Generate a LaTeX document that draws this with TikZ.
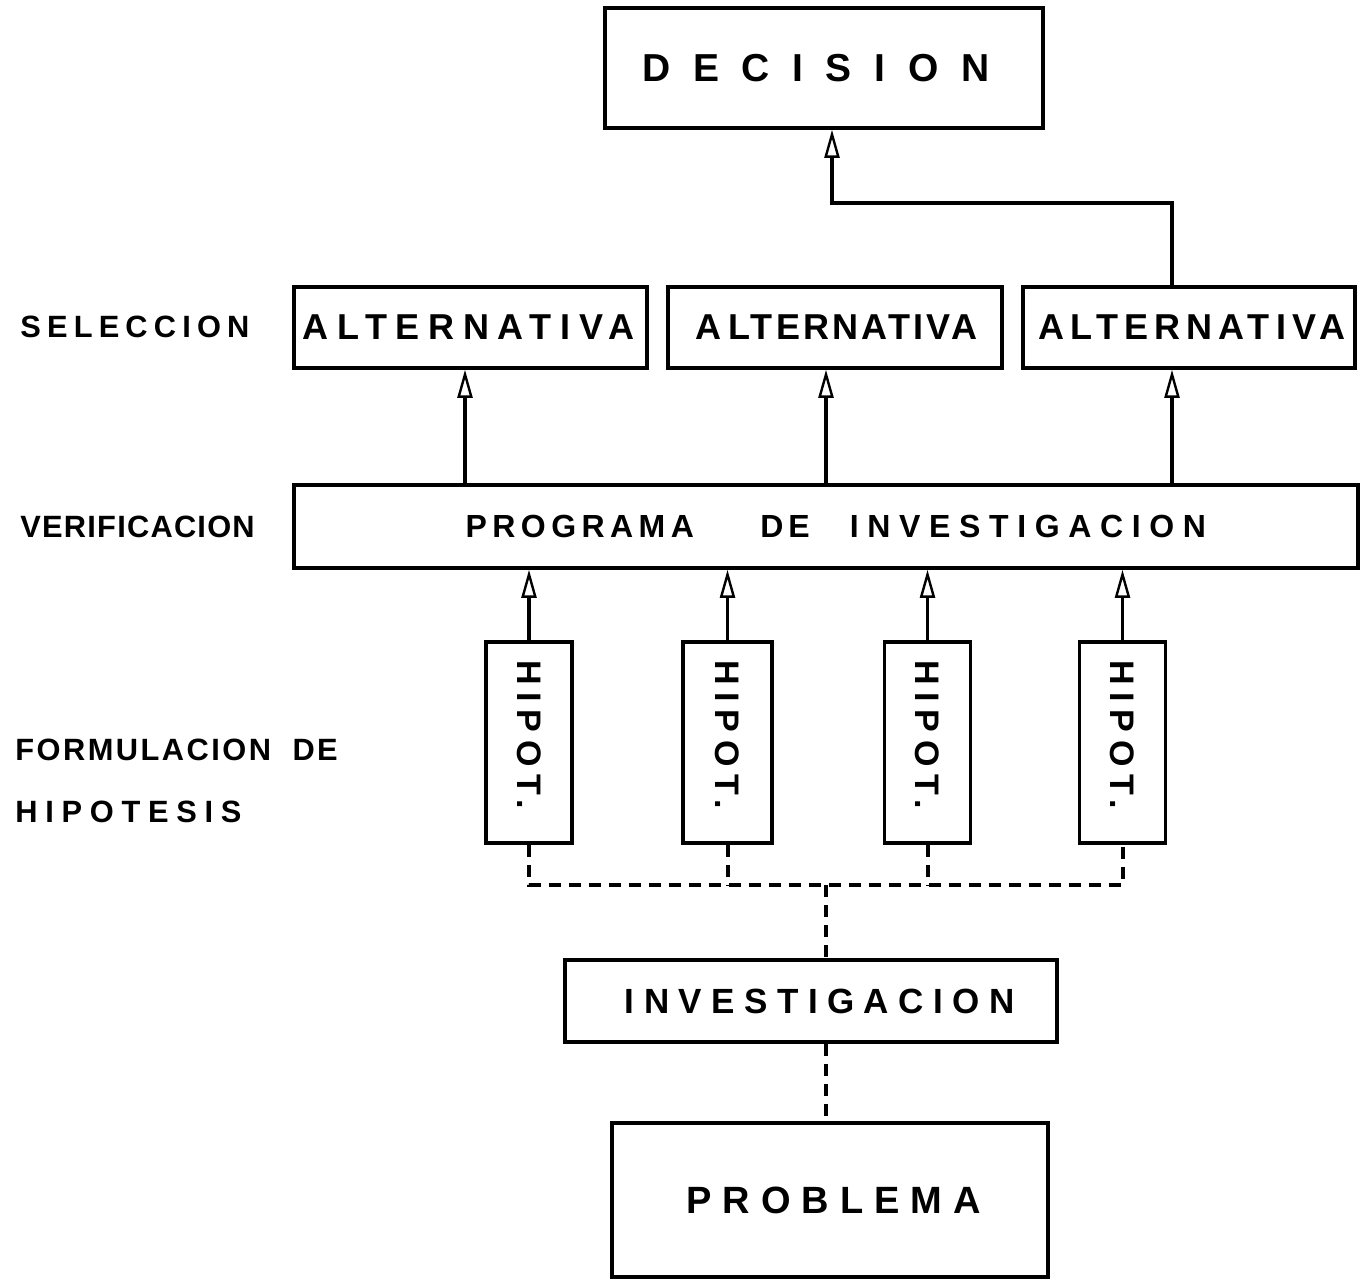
\documentclass[tikz,border=0pt]{standalone}
\usepackage{fontspec}
\usepackage{graphicx}
\setmainfont{Liberation Sans}
\usetikzlibrary{arrows.meta}
\newcommand\lsp[2]{{\addfontfeature{LetterSpace=#1}#2\kern-\dimexpr\fontdimen6\font*#1/100\relax}}
\tikzset{
  box/.style={draw, line width=1.8pt, rectangle, inner sep=0pt},
  altbox/.style={box, minimum height=40.5pt, font=\bfseries\fontsize{18}{21}\selectfont},
  hipbox/.style={box, minimum width=43pt, minimum height=100.5pt, font=\bfseries\fontsize{17}{19}\selectfont},
  lbl/.style={anchor=west, inner sep=0pt, font=\bfseries\fontsize{15.4}{18}\selectfont},
  arr/.style={line width=1.8pt, -{Triangle[open, length=14pt, width=7.5pt, line width=1.2pt]}},
  dsh/.style={line width=2pt, dash pattern=on 6pt off 4pt},
}
\begin{document}
\begin{tikzpicture}[x=0.5pt,y=-0.5pt]
\useasboundingbox (0,0) rectangle (1360,1286);
% boxes
\node[box, minimum width=219pt, minimum height=60pt, font=\bfseries\fontsize{19.5}{23}\selectfont] (dec) at (824,68) {\lsp{58}{DECISION}\kern19.5pt};
\node[altbox, minimum width=176.5pt] (alt1) at (470.5,327.5) {\lsp{24}{ALTERNATIVA}\kern6pt};
\node[altbox, minimum width=167pt] (alt2) at (835,327.5) {\lsp{9}{A}\kern5pt\lsp{9}{LTERNATIVA}};
\node[altbox, minimum width=166pt] (alt3) at (1189,327.5) {\lsp{17}{ALTERNATIVA}};
\node[box, minimum width=532pt, minimum height=41.5pt, font=\bfseries\fontsize{16}{19}\selectfont] (prog) at (826,526.5) {\kern5.5pt\lsp{17}{PROGRAMA}\kern36pt\lsp{15}{DE}\kern22.5pt\lsp{27}{INVESTIGACION}};
\node[hipbox, minimum width=43pt] (hip1) at (529,742.5) {\rotatebox{-90}{\lsp{23}{HIPOT.}\kern12pt}};
\node[hipbox, minimum width=44.5pt] (hip2) at (727.5,742.5) {\rotatebox{-90}{\lsp{23}{HIPOT.}\kern12pt}};
\node[hipbox] (hip3) at (927.5,742.5) {\rotatebox{-90}{\lsp{23}{HIPOT.}\kern12pt}};
\node[hipbox] (hip4) at (1122.5,742.5) {\rotatebox{-90}{\lsp{23}{HIPOT.}\kern12pt}};
\node[box, minimum width=246pt, minimum height=41pt, font=\bfseries\fontsize{17.5}{21}\selectfont] (inv) at (811,1001) {\kern4pt\lsp{27}{INVESTIGACION}};
\node[box, minimum width=218pt, minimum height=77pt, font=\bfseries\fontsize{19}{22}\selectfont] (prob) at (830,1200) {\lsp{29}{PROBLEMA}\kern2pt};
% labels
\node[lbl] (sel) at (20,327) {\lsp{20}{SELECCION}};
\node[lbl] (ver) at (20,527) {\lsp{4}{VERIFICACION}};
\node[lbl] (form) at (15,750) {\lsp{8}{FORMULACION}\kern12pt\lsp{8}{DE}};
\node[lbl] (hipo) at (15,812) {\lsp{25}{HIPOTESIS}};
% connectors
\coordinate (k1) at (1172,203);
\coordinate (k2) at (832,203);
\coordinate (p1) at (465,0);
\coordinate (p2) at (826,0);
\draw[arr] (prog.north -| p1) -- (alt1.south -| p1);
\draw[arr] (prog.north -| p2) -- (alt2.south -| p2);
\draw[arr] (prog.north -| k1) -- (alt3.south -| k1);
\draw[arr] (alt3.north -| k1) -- (k1) -- (k2) -- (k2 |- dec.south);
\draw[arr] (hip1.north) -- (prog.south -| hip1.north);
\draw[arr] (hip2.north) -- (prog.south -| hip2.north);
\draw[arr] (hip3.north) -- (prog.south -| hip3.north);
\draw[arr] (hip4.north) -- (prog.south -| hip4.north);
\coordinate (bus) at (0,885);
\coordinate (jn) at (826,885);
\draw[dsh] (hip1.south) -- (hip1.south |- bus) -- (hip4.south |- bus) -- (hip4.south);
\draw[dsh] (hip2.south) -- (hip2.south |- bus);
\draw[dsh] (hip3.south) -- (hip3.south |- bus);
\draw[dsh] (jn) -- (jn |- inv.north);
\draw[dsh] (inv.south -| jn) -- (prob.north -| jn);
\end{tikzpicture}
\end{document}
